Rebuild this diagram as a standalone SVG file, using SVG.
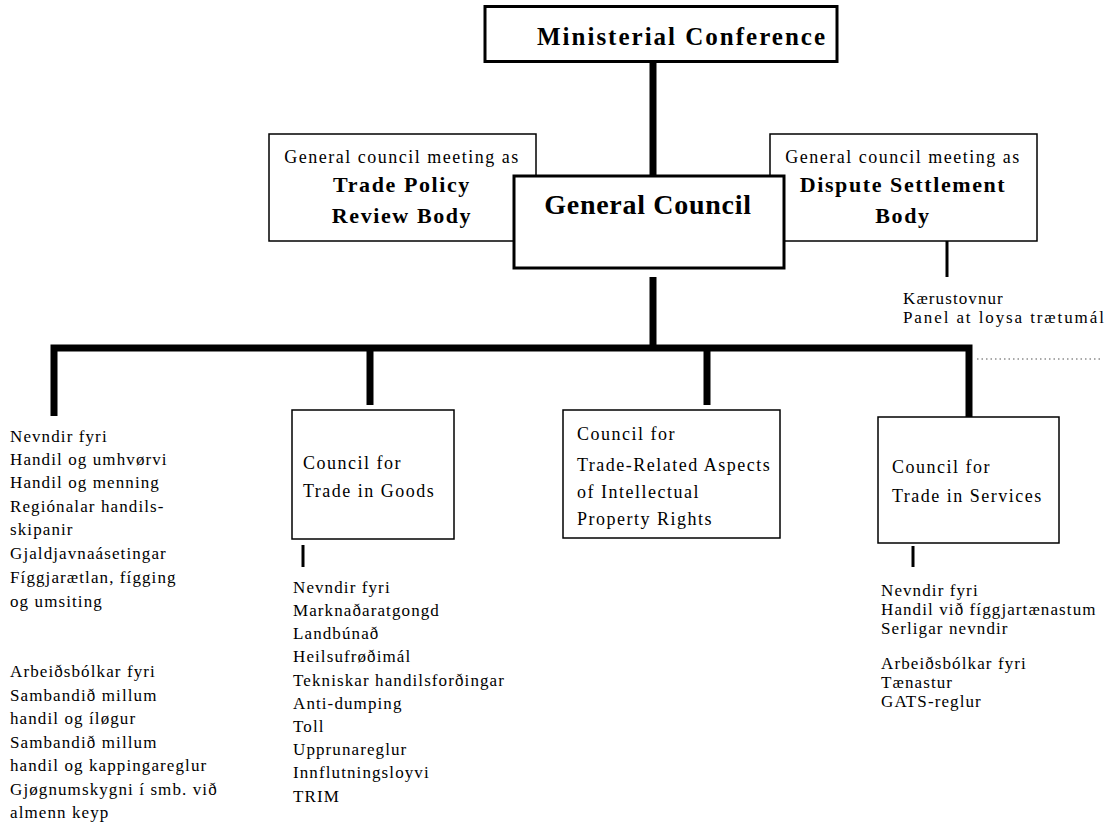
<svg xmlns="http://www.w3.org/2000/svg" width="1109" height="822" viewBox="0 0 1109 822" font-family="Liberation Serif, serif">
<style>
  text{font-family:"Liberation Serif",serif;fill:#000}
  .box{fill:#fff;stroke:#000;stroke-width:1.5}
  .boxb{fill:#fff;stroke:#000;stroke-width:3}
  .thick{stroke:#000;stroke-width:7;fill:none;stroke-linecap:butt}
  .thin{stroke:#000;stroke-width:3;fill:none}
  .dot{stroke:#555;stroke-width:1.2;stroke-dasharray:1.5 3;fill:none}
  .t{font-size:17px;letter-spacing:1.1px}
  .tw{letter-spacing:1.9px}
  .bt{font-size:18px;letter-spacing:1.5px}
  .hd{font-size:18px;letter-spacing:1.5px;text-anchor:middle}
  .hb{font-size:22px;font-weight:bold;letter-spacing:1.6px;text-anchor:middle}
</style>
<rect width="1109" height="822" fill="#fff"/>
<g id="connectors">
  <line class="thick" x1="653" y1="62" x2="653" y2="176"/>
  <line class="thick" x1="653" y1="277" x2="653" y2="348"/>
  <polyline class="thick" points="54,416 54,348 969,348 969,417"/>
  <line class="thick" x1="370" y1="348" x2="370" y2="405"/>
  <line class="thick" x1="707" y1="348" x2="707" y2="405"/>
  <line class="thin" x1="947" y1="241" x2="947" y2="277"/>
  <line class="thin" x1="303" y1="545" x2="303" y2="567"/>
  <line class="thin" x1="913" y1="546" x2="913" y2="567"/>
  <line class="dot" x1="977" y1="359" x2="1102" y2="359"/>
</g>
<g id="ministerial-conference">
  <rect class="boxb" x="485" y="6.5" width="352" height="55"/>
  <text x="682" y="45" font-size="25" font-weight="bold" letter-spacing="2" text-anchor="middle">Ministerial Conference</text>
</g>
<g id="trade-policy-review-body">
  <rect class="box" x="269" y="134" width="267" height="107"/>
  <text class="hd" x="402" y="163">General council meeting as</text>
  <text class="hb" x="402" y="192">Trade Policy</text>
  <text class="hb" x="402" y="223">Review Body</text>
</g>
<g id="dispute-settlement-body">
  <rect class="box" x="770" y="134" width="267" height="107"/>
  <text class="hd" x="903" y="163">General council meeting as</text>
  <text class="hb" x="903" y="192">Dispute Settlement</text>
  <text class="hb" x="903" y="223">Body</text>
</g>
<g id="general-council">
  <rect class="boxb" x="514" y="176" width="270" height="92"/>
  <text x="648" y="214" font-size="28" font-weight="bold" letter-spacing="0.7" text-anchor="middle">General Council</text>
</g>
<g id="dispute-panels">
  <text class="t" x="903" y="304">Kærustovnur</text>
  <text class="t tw" x="903" y="323">Panel at loysa trætumál</text>
</g>
<g id="general-council-committees">
  <text class="t" x="10" y="442">Nevndir fyri</text>
  <text class="t" x="10" y="465">Handil og umhvørvi</text>
  <text class="t" x="10" y="488">Handil og menning</text>
  <text class="t" x="10" y="512">Regiónalar handils-</text>
  <text class="t" x="10" y="535">skipanir</text>
  <text class="t" x="10" y="559">Gjaldjavnaásetingar</text>
  <text class="t" x="10" y="583">Fíggjarætlan, fígging</text>
  <text class="t" x="10" y="607">og umsiting</text>
  <text class="t" x="10" y="677">Arbeiðsbólkar fyri</text>
  <text class="t" x="10" y="701">Sambandið millum</text>
  <text class="t" x="10" y="724">handil og íløgur</text>
  <text class="t" x="10" y="748">Sambandið millum</text>
  <text class="t" x="10" y="771">handil og kappingareglur</text>
  <text class="t" x="10" y="795">Gjøgnumskygni í smb. við</text>
  <text class="t" x="10" y="818">almenn keyp</text>
</g>
<g id="council-goods">
  <rect class="box" x="292" y="410" width="162" height="129"/>
  <text class="bt" x="303" y="469">Council for</text>
  <text class="bt" x="303" y="497">Trade in Goods</text>
</g>
<g id="goods-committees">
  <text class="t" x="293" y="593">Nevndir fyri</text>
  <text class="t" x="293" y="616">Marknaðaratgongd</text>
  <text class="t" x="293" y="639">Landbúnað</text>
  <text class="t" x="293" y="662">Heilsufrøðimál</text>
  <text class="t" x="293" y="686">Tekniskar handilsforðingar</text>
  <text class="t" x="293" y="709">Anti-dumping</text>
  <text class="t" x="293" y="732">Toll</text>
  <text class="t" x="293" y="755">Upprunareglur</text>
  <text class="t" x="293" y="778">Innflutningsloyvi</text>
  <text class="t" x="293" y="802">TRIM</text>
</g>
<g id="council-trips">
  <rect class="box" x="563" y="410" width="217" height="128"/>
  <text class="bt" x="577" y="440">Council for</text>
  <text class="bt" x="577" y="471">Trade-Related Aspects</text>
  <text class="bt" x="577" y="498">of Intellectual</text>
  <text class="bt" x="577" y="525">Property Rights</text>
</g>
<g id="council-services">
  <rect class="box" x="878" y="417" width="181" height="126"/>
  <text class="bt" x="892" y="473">Council for</text>
  <text class="bt" x="892" y="502">Trade in Services</text>
</g>
<g id="services-committees">
  <text class="t" x="881" y="596">Nevndir fyri</text>
  <text class="t" x="881" y="615">Handil við fíggjartænastum</text>
  <text class="t" x="881" y="634">Serligar nevndir</text>
  <text class="t" x="881" y="669">Arbeiðsbólkar fyri</text>
  <text class="t" x="881" y="688">Tænastur</text>
  <text class="t" x="881" y="707">GATS-reglur</text>
</g>
</svg>
